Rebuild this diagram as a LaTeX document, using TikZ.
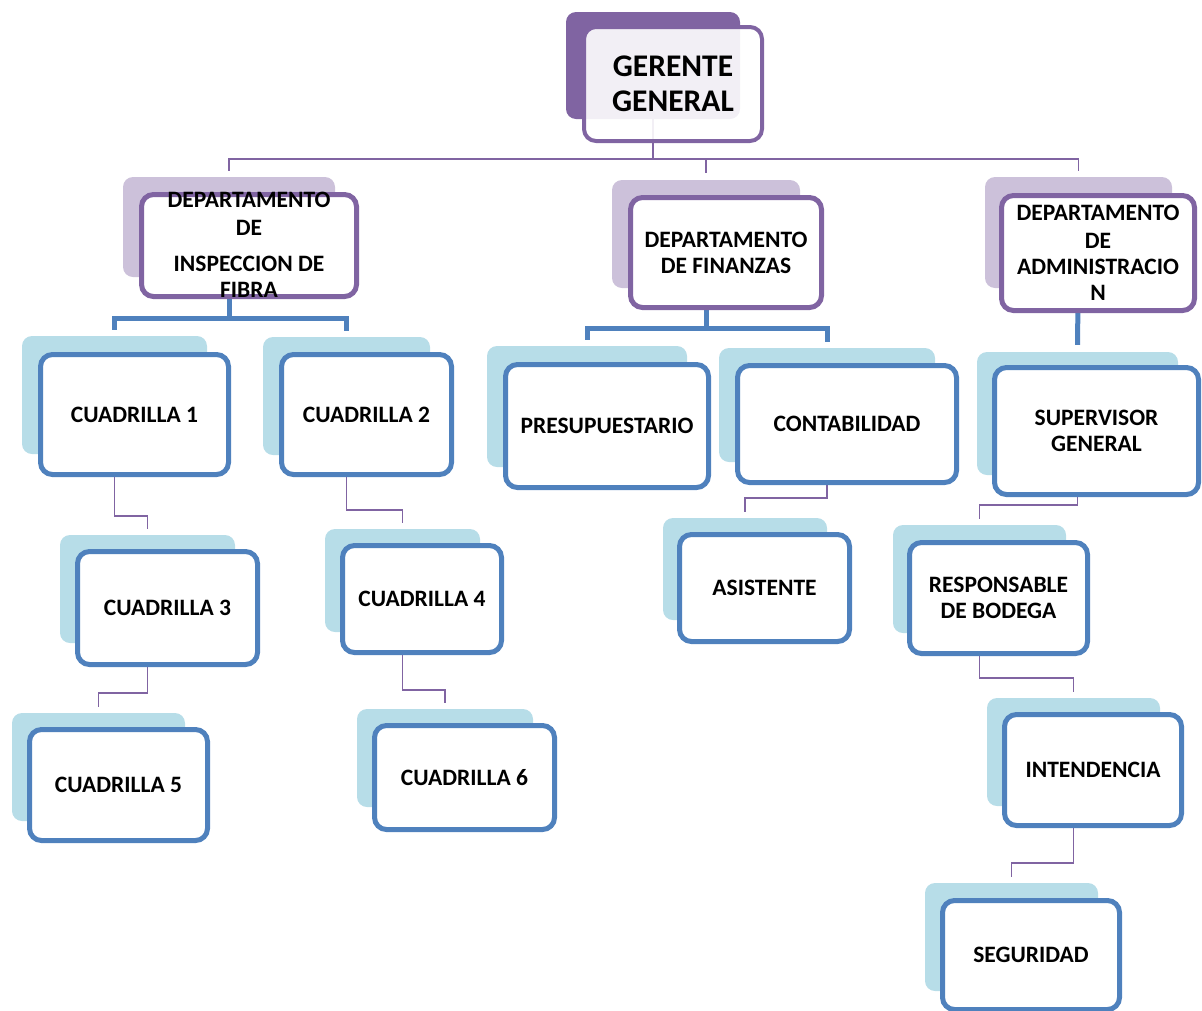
\documentclass[tikz,border=0pt]{standalone}
\usepackage{fontspec}
\setmainfont{Carlito}
\usetikzlibrary{backgrounds}
\definecolor{clrP}{RGB}{128,100,162}
\definecolor{clrPL}{RGB}{204,193,218}
\definecolor{clrB}{RGB}{79,129,189}
\definecolor{clrBL}{RGB}{183,221,232}

\begin{document}
\begin{tikzpicture}[x=1pt,y=-1pt,
  font=\bfseries\fontsize{23.5}{26}\selectfont,
  ghost/.style={rounded corners=10pt,inner sep=0pt},
  orgbox/.style={rounded corners=12pt,fill=white,align=center,inner sep=0pt,line width=5pt},
  boxP/.style={orgbox,draw=clrP},
  boxB/.style={orgbox,draw=clrB},
  lineP/.style={draw=clrP,line width=1.6pt},
  barB/.style={draw=clrB,line width=5pt}]
  \useasboundingbox (0,0) rectangle (1202,1010);
  \clip (0,0) rectangle (1202,1010);

  % back plates, one per box
  \foreach \n/\c/\x/\y/\w/\h in {%
    ggs/clrP/653/65.5/174/107,
    d1s/clrPL/229/227/212/100,
    d2s/clrPL/706/234/188/108,
    d3s/clrPL/1078.5/232.5/187/111,
    c1s/clrBL/114.5/395/185/118,
    c2s/clrBL/346.5/396/167/118,
    pres/clrBL/587/406.5/200/121,
    cons/clrBL/827/405/216/114,
    sups/clrBL/1077.5/413.5/201/123,
    c3s/clrBL/147.5/589/175/108,
    c4s/clrBL/402.5/580.5/155/103,
    asis/clrBL/745/569/164/102,
    ress/clrBL/979.5/579/173/108,
    c5s/clrBL/98.5/767/173/108,
    c6s/clrBL/445/758/176/98,
    ints/clrBL/1073.5/752/173/108,
    segs/clrBL/1011.5/937/173/108}{
      \node[ghost,fill=\c,minimum width=\w pt,minimum height=\h pt] (\n) at (\x,\y) {};
  }

  % top and departments
  \node[boxP,line width=4pt,fill opacity=0.9,text opacity=1,minimum width=178pt,minimum height=114pt,
    font=\bfseries\fontsize{31.5}{35}\selectfont] (gg) at (673,84) {GERENTE\\GENERAL};
  \node[boxP,minimum width=215pt,minimum height=102pt] (d1) at (249,245.5) {};
  \node[align=center,inner sep=0pt] (d1t) at (249,245)
    {DEPARTAMENTO\\[2pt]DE\\[10pt]INSPECCION DE\\FIBRA};
  \node[boxP,minimum width=191pt,minimum height=110pt] (d2) at (726,252.5)
    {DEPARTAMENTO\\DE FINANZAS};
  \node[boxP,minimum width=193pt,minimum height=115pt] (d3) at (1098,253)
    {DEPARTAMENTO\\[2pt]DE\\ADMINISTRACIO\\N};

  % units
  \foreach \n/\x/\y/\w/\h/\lab in {%
    c1/134.5/414.5/188/120/{CUADRILLA 1},
    c2/366.5/414.5/170/120/{CUADRILLA 2},
    pre/607/426/203/123/{PRESUPUESTARIO},
    con/847/424/219/117/{CONTABILIDAD},
    sup/1096.5/431/204/127/{SUPERVISOR\\GENERAL},
    c3/167.5/608/180/113/{CUADRILLA 3},
    c4/422/599/159/107/{CUADRILLA 4},
    asi/764.5/588/170/107/{ASISTENTE},
    res/998.5/598/178/111/{RESPONSABLE\\DE BODEGA},
    c5/118.5/785/178/111/{CUADRILLA 5},
    c6/464.5/777.5/180/104/{CUADRILLA 6},
    int/1093/770/177/111/{INTENDENCIA},
    seg/1031/955/177/109/{SEGURIDAD}}{
      \node[boxB,minimum width=\w pt,minimum height=\h pt] (\n) at (\x,\y) {\lab};
  }

  % connectors behind the boxes
  \begin{pgfonlayer}{background}
    \coordinate (bus) at (653,159);
    \draw[lineP] (ggs.center) -- (bus);
    \draw[lineP,shorten <=6pt,shorten >=6pt] (d1s.north) |- (bus) -| (d3s.north);
    \draw[lineP,shorten >=7pt] (bus -| d2s.north) -- (d2s.north);

    \coordinate (bar1) at (229,318);
    \draw[barB] (d1s.center) -- (bar1);
    \draw[barB,shorten <=6pt,shorten >=6pt] (c1s.north) |- (bar1) -| (c2s.north);
    \coordinate (bar2) at (706,328);
    \draw[barB] (d2s.center) -- (bar2);
    \draw[barB,shorten <=6pt,shorten >=6pt] (pres.north) |- (bar2) -| (cons.north);
    \draw[barB,shorten >=7pt] (d3s.center) -- (sups.north);

    \foreach \a/\b/\y in {c1s/c3s/516, c3s/c5s/693, c2s/c4s/510, c4s/c6s/690,
      cons/asis/498, sups/ress/505, ress/ints/678, ints/segs/863}
      \draw[lineP,shorten >=6pt] (\a.center) -- (\a.center |- 0,\y) -| (\b.north);
  \end{pgfonlayer}
\end{tikzpicture}
\end{document}
